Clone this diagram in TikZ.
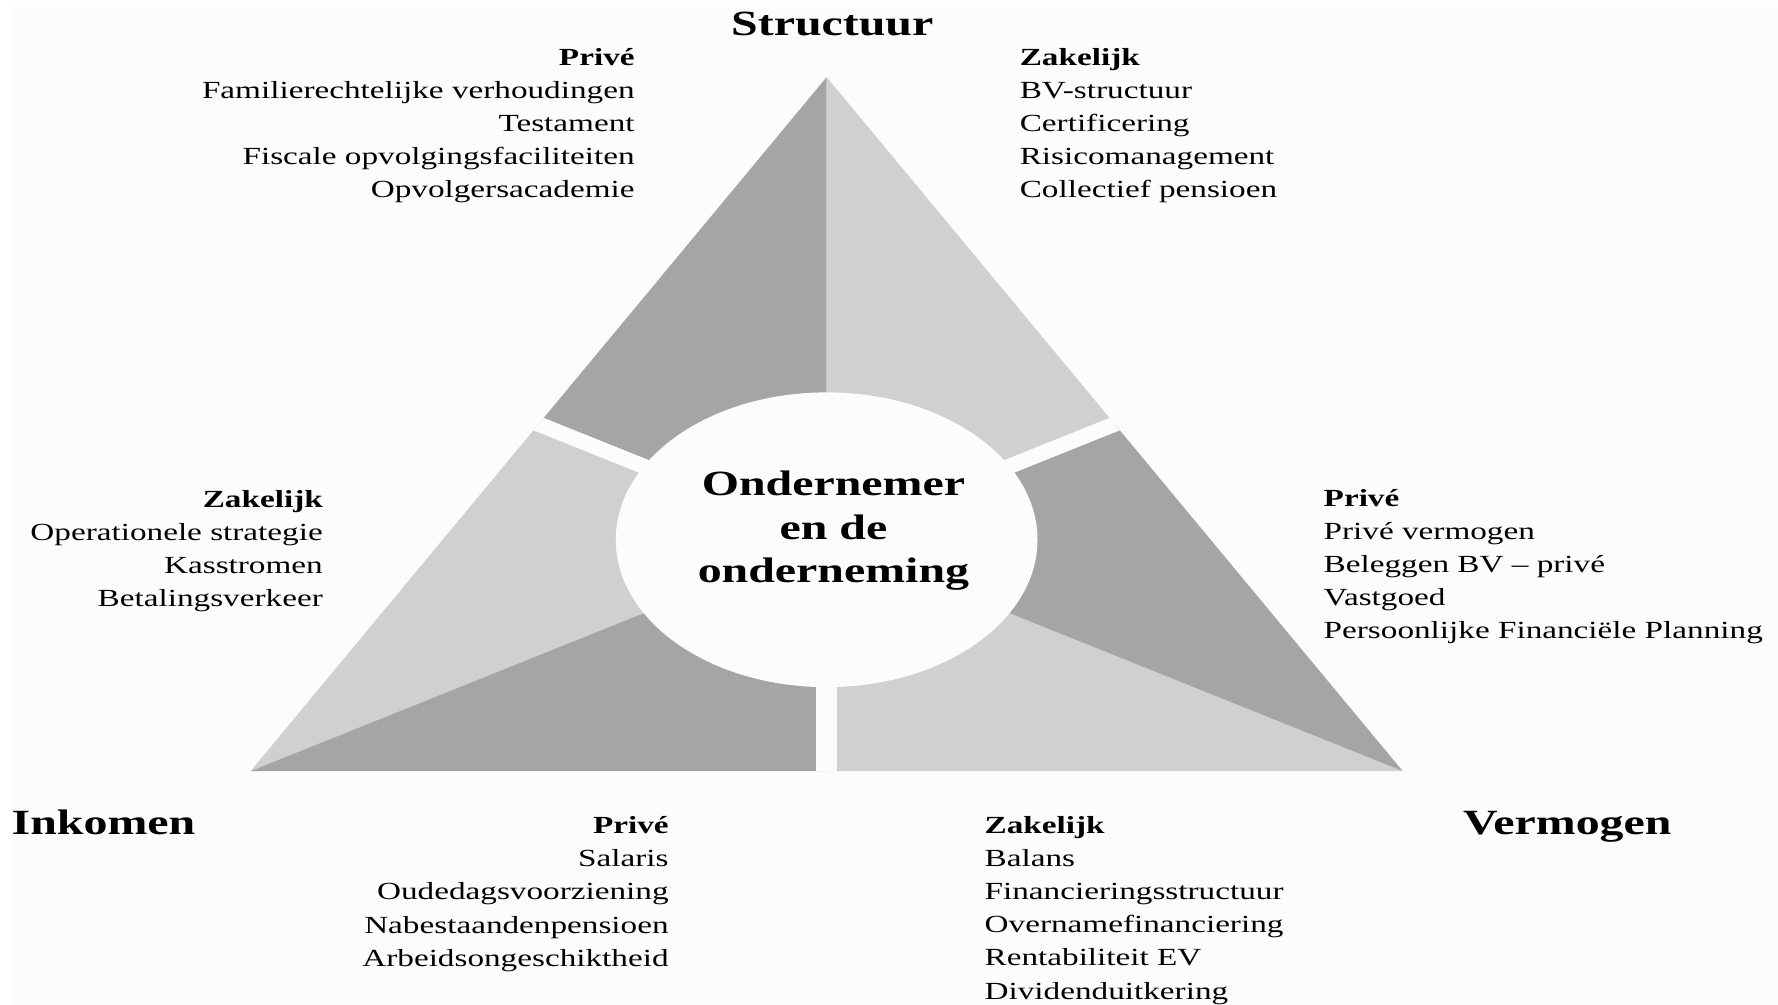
\documentclass[tikz,border=0pt]{standalone}
\usepackage{fontspec}
\setmainfont{Liberation Serif}[FakeStretch=1.35]
\usetikzlibrary{calc}
\definecolor{mydark}{RGB}{165,165,165}
\definecolor{mylight}{RGB}{208,208,208}
\definecolor{mypanel}{RGB}{252,252,252}
\tikzset{
  body/.style={font=\fontsize{12.35}{16.6}\selectfont, inner sep=0pt},
  head/.style={font=\fontsize{17.8}{21.9}\selectfont\bfseries, inner sep=0pt},
}

\begin{document}
\begin{tikzpicture}[x=0.02cm,y=-0.02cm]
\useasboundingbox (0,0) rectangle (1568,886);
\fill[mypanel] (10,6) rectangle (1568,886);

% corners, centre and edge midpoints
\coordinate (O) at (729,476);
\coordinate (A) at (729,68);
\coordinate (L) at (221,680);
\coordinate (R) at (1237,680);
\coordinate (mL) at (475,374);
\coordinate (mR) at (983,374);
\coordinate (mB) at (729,680);

% six parts
\fill[mydark] (O) -- (A) -- (mL) -- cycle;
\fill[mylight] (O) -- (A) -- (mR) -- cycle;
\fill[mylight] (O) -- (mL) -- (L) -- cycle;
\fill[mydark] (O) -- (L) -- (mB) -- cycle;
\fill[mylight] (O) -- (mB) -- (R) -- cycle;
\fill[mydark] (O) -- (R) -- (mR) -- cycle;

% gaps
\begin{scope}
\clip (A) -- (L) -- (R) -- cycle;
\draw[mypanel, line width=0.27cm] (O) -- ($(O)!1.2!(mL)$);
\draw[mypanel, line width=0.27cm] (O) -- ($(O)!1.2!(mR)$);
\draw[mypanel, line width=0.36cm] (O) -- ($(O)!1.2!(mB)$);
\end{scope}
\fill[mypanel] (O) ellipse [x radius=3.72cm, y radius=2.6cm];

% base = last line
\node[head, align=center, anchor=base] (kern) at (735,514) {Ondernemer\\en de\\onderneming};

\node[head, anchor=base] (structuur) at (734,31) {Structuur};
\node[head, anchor=base west] (inkomen) at (10,736) {Inkomen};
\node[head, anchor=base west] (vermogen) at (1290,736) {Vermogen};

\node[body, align=right, anchor=base east] (struPrive) at (560,174) {\textbf{Privé}\\Familierechtelijke verhoudingen\\Testament\\Fiscale opvolgingsfaciliteiten\\Opvolgersacademie};
\node[body, align=left, anchor=base west] (struZak) at (899,174) {\textbf{Zakelijk}\\BV-structuur\\Certificering\\Risicomanagement\\Collectief pensioen};
\node[body, align=right, anchor=base east] (inkZak) at (285,535) {\textbf{Zakelijk}\\Operationele strategie\\Kasstromen\\Betalingsverkeer};
\node[body, align=right, anchor=base east] (inkPrive) at (590,852) {\textbf{Privé}\\Salaris\\Oudedagsvoorziening\\Nabestaandenpensioen\\Arbeidsongeschiktheid};
\node[body, align=left, anchor=base west] (verPrive) at (1167,563) {\textbf{Privé}\\Privé vermogen\\Beleggen BV – privé\\Vastgoed\\Persoonlijke Financiële Planning};
\node[body, align=left, anchor=base west] (verZak) at (868,881) {\textbf{Zakelijk}\\Balans\\Financieringsstructuur\\Overnamefinanciering\\Rentabiliteit EV\\Dividenduitkering};
\end{tikzpicture}
\end{document}
